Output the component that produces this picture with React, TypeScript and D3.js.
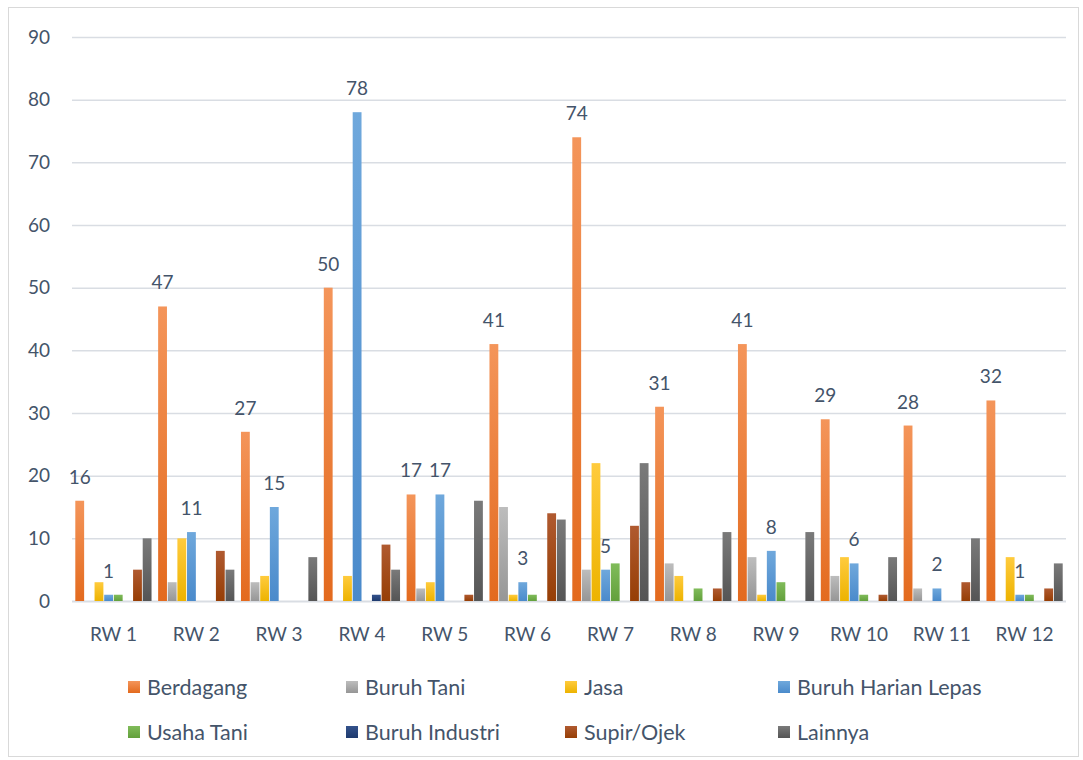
import React from "react";
import * as d3 from "d3";

const categories = ["RW 1", "RW 2", "RW 3", "RW 4", "RW 5", "RW 6", "RW 7", "RW 8", "RW 9", "RW 10", "RW 11", "RW 12"];
const seriesNames = ["Berdagang", "Buruh Tani", "Jasa", "Buruh Harian Lepas", "Usaha Tani", "Buruh Industri", "Supir/Ojek", "Lainnya"];
const berdagang = [16, 47, 27, 50, 17, 41, 74, 31, 41, 29, 28, 32];
const buruhTani = [0, 3, 3, 0, 2, 15, 5, 6, 7, 4, 2, 0];
const jasa = [3, 10, 4, 4, 3, 1, 22, 4, 1, 7, 0, 7];
const buruhHarianLepas = [1, 11, 15, 78, 17, 3, 5, 0, 8, 6, 2, 1];
const usahaTani = [1, 0, 0, 0, 0, 1, 6, 2, 3, 1, 0, 1];
const buruhIndustri = [0, 0, 0, 1, 0, 0, 0, 0, 0, 0, 0, 0];
const supirOjek = [5, 8, 0, 9, 1, 14, 12, 2, 0, 1, 3, 2];
const lainnya = [10, 5, 7, 5, 16, 13, 22, 11, 11, 7, 10, 6];
const yTicks = [0, 10, 20, 30, 40, 50, 60, 70, 80, 90];
const labeledSeries = ["Berdagang", "Buruh Harian Lepas"];

const seriesValues = [berdagang, buruhTani, jasa, buruhHarianLepas, usahaTani, buruhIndustri, supirOjek, lainnya];
const colors = [
  ["#F4955A", "#E36A1E"],
  ["#BDBDBD", "#969696"],
  ["#FFCB3D", "#EDB300"],
  ["#6FA8DC", "#4A8ACB"],
  ["#80BC5A", "#63A03C"],
  ["#34528C", "#1E3A6E"],
  ["#B05A30", "#963E05"],
  ["#7A7A7A", "#555555"],
];

const W = 1083;
const H = 760;
const left = 72;
const right = 1066;
const top = 37;
const bottom = 601;
const textColor = "#44546A";
const font = "Lato, 'Open Sans', sans-serif";

export default function App() {
  const x0 = d3.scaleBand<string>().domain(categories).range([left, right]).paddingInner(0.07).paddingOuter(0.035);
  const x1 = d3.scaleBand<string>().domain(seriesNames).range([0, x0.bandwidth()]).padding(0);
  const y = d3.scaleLinear().domain([0, 90]).range([bottom, top]);
  const bw = x1.bandwidth() - 0.8;

  const legendCols = [128, 346, 565, 778];
  const legendRows = [687, 732];

  return (
    <svg width={W} height={H} style={{ position: "absolute", left: 0, top: 0, background: "#fff" }} fontFamily={font}>
      <defs>
        {colors.map((c, i) => (
          <linearGradient key={i} id={`g${i}`} x1="0" y1="0" x2="0" y2="1">
            <stop offset="0%" stopColor={c[0]} />
            <stop offset="100%" stopColor={c[1]} />
          </linearGradient>
        ))}
      </defs>
      <rect x={8.5} y={7.5} width={1070} height={749} fill="#fff" stroke="#D9D9D9" />
      {yTicks.map((t) => (
        <g key={t}>
          <line x1={left} x2={right} y1={y(t) + 0.5} y2={y(t) + 0.5} stroke="#D9DDE3" strokeWidth={t === 0 ? 2 : 1.5} />
          <text x={50} y={y(t)} dy="0.35em" textAnchor="end" fontSize={19} fill={textColor}>{t}</text>
        </g>
      ))}
      {categories.map((c, ci) => (
        <g key={c} transform={`translate(${x0(c)},0)`}>
          {seriesNames.map((s, si) => {
            const v = seriesValues[si][ci];
            if (v <= 0) return null;
            return (
              <rect key={s} x={x1(s)! + 0.4} y={y(v)} width={bw} height={y(0) - y(v)} fill={`url(#g${si})`} />
            );
          })}
          {seriesNames.map((s, si) => {
            const v = seriesValues[si][ci];
            if (!labeledSeries.includes(s) || v <= 0) return null;
            return (
              <text key={"l" + s} x={x1(s)! + x1.bandwidth() / 2} y={y(v) - 17} textAnchor="middle" fontSize={19} fill={textColor}>{v}</text>
            );
          })}
          <text x={x0.bandwidth() / 2} y={634} dy="0.35em" textAnchor="middle" fontSize={19} fill={textColor}>{c}</text>
        </g>
      ))}
      {seriesNames.map((s, i) => {
        const lx = legendCols[i % 4];
        const ly = legendRows[Math.floor(i / 4)];
        return (
          <g key={s}>
            <rect x={lx} y={ly - 6} width={12} height={12} fill={`url(#g${i})`} />
            <text x={lx + 19} y={ly} dy="0.35em" fontSize={21.5} fill={textColor}>{s}</text>
          </g>
        );
      })}
    </svg>
  );
}
